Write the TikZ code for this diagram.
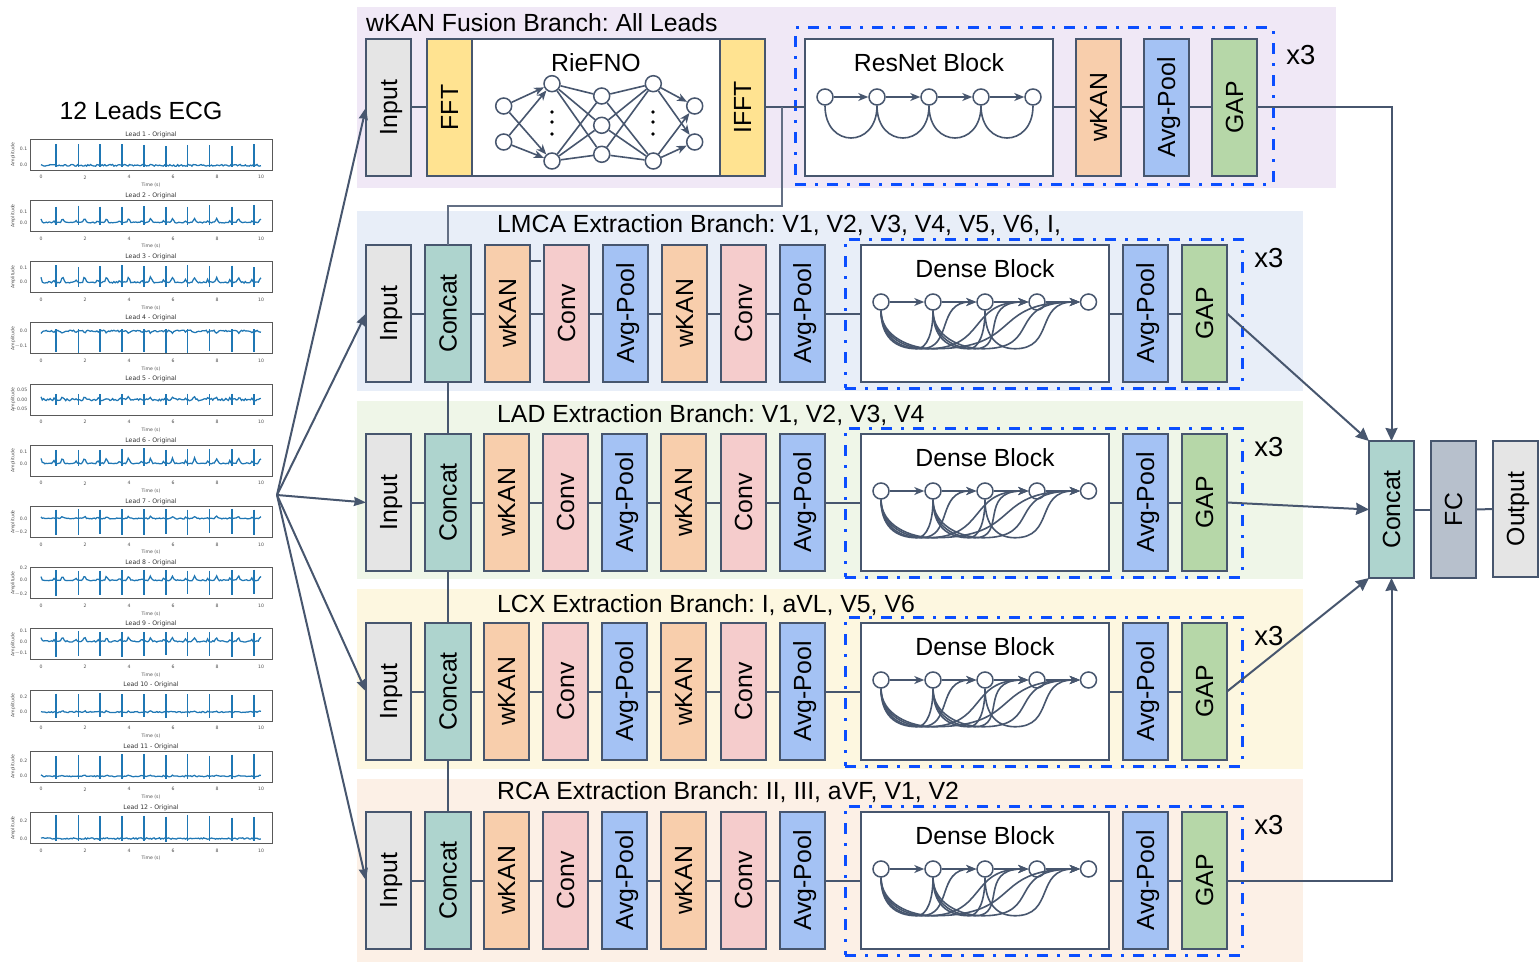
\documentclass[tikz,border=0pt]{standalone}
\usepackage{fontspec}
\usepackage{graphicx}
\setmainfont{Liberation Sans}
\newfontfamily\plotfont{DejaVu Sans}
\usetikzlibrary{arrows.meta,calc}
\definecolor{lin}{HTML}{47566E}
\definecolor{dashblue}{HTML}{0B4EFF}
\definecolor{cInput}{HTML}{E5E5E5}
\definecolor{cFFT}{HTML}{FFE391}
\definecolor{cConcat}{HTML}{AED4CE}
\definecolor{cWkan}{HTML}{F8CEAC}
\definecolor{cConv}{HTML}{F5CCCC}
\definecolor{cPool}{HTML}{A4C2F4}
\definecolor{cGap}{HTML}{B6D7A8}
\definecolor{cFC}{HTML}{B7C0CC}
\definecolor{bgP}{HTML}{F0E8F6}
\definecolor{bgB}{HTML}{E8EEF8}
\definecolor{bgG}{HTML}{EFF6E8}
\definecolor{bgY}{HTML}{FDF7E0}
\definecolor{bgO}{HTML}{FCF0E6}
\definecolor{ecg}{HTML}{1F77B4}
\newcommand\lab{\fontsize{24.8}{28}\selectfont\frenchspacing}
\newcommand\rt[1]{\rotatebox{90}{\raisebox{0pt}[17.4pt][0pt]{\lab #1}}}
\newcommand\bx[7]{\pgfmathsetmacro\ww{#4-#2}\pgfmathsetmacro\hh{#5-#3}%
  \node[#6,minimum width=\ww pt,minimum height=\hh pt,anchor=north west,inner sep=0pt,outer sep=0pt] (#1) at (#2,#3) {#7};}
\tikzset{
  x=1pt,y=-1pt,
  blk/.style={draw=lin,line width=2pt,rectangle},
  bgrect/.style={rectangle,draw=none},
  dashrect/.style={rectangle,draw=dashblue,line width=3pt,dash pattern=on 11pt off 9pt on 3pt off 9pt},
  conn/.style={draw=lin,line width=2pt},
  thinconn/.style={draw=lin!85!white,line width=1.6pt},
  bigarrow/.style={draw=lin,line width=2pt,-{Stealth[length=13pt,width=12pt,inset=1pt]}},
  minitip/.style={draw=lin,line width=1.6pt,-{Stealth[length=10pt,width=8pt,inset=3pt]}},
  miniline/.style={draw=lin,line width=1.6pt},
  neuron/.style={circle,draw=lin,line width=1.5pt,fill=white,minimum size=16pt,inner sep=0pt},
  plain/.style={inner sep=0pt,text=black,font=\lab},
  timesthree/.style={inner sep=0pt,text=black,font=\fontsize{27.5}{30}\selectfont},
  tiny/.style={inner sep=0pt,text=black!70,font=\plotfont\fontsize{4.6}{5}\selectfont},
  ptitle/.style={inner sep=0pt,text=black!80,font=\plotfont\fontsize{6.2}{7}\selectfont},
}
% branch row
\newcommand\branchrow[8]{% #1 id, #2 top, #3 delta, #4 bg colour, #5 bg top, #6 bg bottom, #7 title, #8 baseline
  \pgfmathsetmacro\bt{#2+137}
  \bx{bg#1}{357}{#5}{1303}{#6}{bgrect,fill=#4}{}
  \node[plain,anchor=base west] (title#1) at (497,#8) {#7};
  \pgfmathsetmacro\dt{#2-6}\pgfmathsetmacro\db{#2+143}
  \bx{dash#1}{845}{\dt}{1242}{\db}{dashrect}{}
  \bx{in#1}{366}{#2}{411}{\bt}{blk,fill=cInput}{\rt{Input}}
  \bx{cc#1}{425}{#2}{471}{\bt}{blk,fill=cConcat}{\rt{Concat}}
  \bx{wa#1}{\the\numexpr484+#3}{#2}{\the\numexpr529+#3}{\bt}{blk,fill=cWkan}{\rt{wKAN}}
  \bx{ca#1}{\the\numexpr543+#3}{#2}{\the\numexpr588+#3}{\bt}{blk,fill=cConv}{\rt{Conv}}
  \bx{pa#1}{\the\numexpr602+#3}{#2}{\the\numexpr647+#3}{\bt}{blk,fill=cPool}{\rt{Avg-Pool}}
  \bx{wb#1}{\the\numexpr661+#3}{#2}{\the\numexpr706+#3}{\bt}{blk,fill=cWkan}{\rt{wKAN}}
  \bx{cb#1}{721}{#2}{766}{\bt}{blk,fill=cConv}{\rt{Conv}}
  \bx{pb#1}{780}{#2}{825}{\bt}{blk,fill=cPool}{\rt{Avg-Pool}}
  \bx{wh#1}{861}{#2}{1109}{\bt}{blk,fill=white}{}
  \bx{pc#1}{1123}{#2}{1168}{\bt}{blk,fill=cPool}{\rt{Avg-Pool}}
  \bx{gap#1}{1182}{#2}{1227}{\bt}{blk,fill=cGap}{\rt{GAP}}
  \node[timesthree] (x3#1) at (1269,#2+13) {x3};
  \node[plain] (dt#1) at (985,#2+24) {Dense Block};
  \pgfmathsetmacro\ny{#2+57}
  \node[neuron] (da#1) at (881,\ny) {};
  \node[neuron] (db#1) at (933,\ny) {};
  \node[neuron] (dc#1) at (985,\ny) {};
  \node[neuron] (dd#1) at (1037,\ny) {};
  \node[neuron] (de#1) at (1088.5,\ny) {};
  \draw[conn] (in#1)--(cc#1) (cc#1)--(wa#1) (wa#1)--(ca#1) (ca#1)--(pa#1) (pa#1)--(wb#1) (wb#1)--(cb#1) (cb#1)--(pb#1) (pb#1)--(wh#1) (wh#1)--(pc#1) (pc#1)--(gap#1);
  \draw[minitip] (da#1)--(db#1);
  \draw[minitip] (db#1)--(dc#1);
  \draw[minitip] (dc#1)--(dd#1);
  \draw[minitip] (dd#1)--(de#1);
  \draw[miniline] (da#1.south) .. controls +(0,26) and +(-22,0) .. ++(36,38) .. controls +(10,0) and +(0,22) .. (db#1.south);
  \draw[miniline] (db#1.south) .. controls +(0,26) and +(-22,0) .. ++(36,38) .. controls +(10,0) and +(0,22) .. (dc#1.south);
  \draw[minitip] (da#1.south) .. controls +(0,26) and +(-22,0) .. ++(40,38) .. controls +(32,0) and +(-40,0) .. (dc#1.west);
  \draw[minitip] (da#1.south) .. controls +(0,26) and +(-22,0) .. ++(46,38) .. controls +(60,0) and +(-60,0) .. (dd#1.west);
  \draw[minitip] (da#1.south) .. controls +(0,26) and +(-22,0) .. ++(52,38) .. controls +(90,0) and +(-90,0) .. (de#1.west);
  \draw[minitip] (db#1.south) .. controls +(0,26) and +(-22,0) .. ++(42,38) .. controls +(32,0) and +(-50,0) .. (dd#1.west);
  \draw[minitip] (db#1.south) .. controls +(0,26) and +(-22,0) .. ++(50,38) .. controls +(60,0) and +(-75,0) .. (de#1.west);
  \draw[minitip] (dc#1.south) .. controls +(0,26) and +(-18,0) .. ++(30,38) .. controls +(40,0) and +(-45,0) .. (de#1.west);
}
% ECG panel: #1 id, #2 top, #3 title, #4 base offset, #5 up, #6 down, #7 t-wave, #8 noise, #9 tick list offs/label
\newcommand\ecgpanel[9]{%
  \pgfmathsetmacro\T{#2}\pgfmathsetmacro\Bt{#2+31}\pgfmathsetmacro\B{#2+#4}
  \node[ptitle] (pt#1) at (151,\T-5) {#3};
  \node[tiny,rotate=90] (pa#1amp) at (13,\T+15.5) {Amplitude};
  \node[tiny] (pt#1time) at (151,\T+46) {Time (s)};
  \draw[ecg,line width=1.25pt] plot[samples=170,domain=0:10] (41+22*\x,{\B-#7*exp(-((mod(\x+0.32,1)-0.3)/0.06)^2)-0.5*#7*exp(-((mod(\x+0.32,1)-0.9)/0.04)^2)+#8*(rnd-0.5)});
  \foreach \s in {0.68,1.7,2.68,3.68,4.68,5.68,6.67,7.67,8.68,9.68}{
    \pgfmathsetmacro\ua{\B-#5*(0.86+0.14*rnd)}
    \pgfmathsetmacro\da{\B+#6*(0.86+0.14*rnd)}
    \draw[ecg,line width=1.1pt] ({41+22*\s},\ua)--({41+22*\s},\da);
  }
  \draw[black!65,line width=.9pt] (30,\T) rectangle (272,\Bt);
  \foreach \tk in {0,2,4,6,8,10}{
    \node[tiny] (xt#1n\tk) at ({41+22*\tk},\T+38) {\tk};
  }
  \foreach \o/\l [count=\c] in {#9}{
    \node[tiny,anchor=east] (yt#1n\c) at (27.5,\T+\o) {\l};
  }
}
\begin{document}
\begin{tikzpicture}
\useasboundingbox (0,0) rectangle (1539,963);
\pgfmathsetseed{7}
% ----- top branch
\bx{bg0}{357}{7}{1336}{188}{bgrect,fill=bgP}{}
\node[plain,anchor=base west] (title0) at (366,31.5) {wKAN Fusion Branch: All Leads};
\bx{dash0}{795}{28}{1273}{184}{dashrect}{}
\bx{in0}{366}{39}{411}{176}{blk,fill=cInput}{\rt{Input}}
\bx{rf}{472}{39}{720}{176}{blk,fill=white}{}
\bx{fft}{427}{39}{472}{176}{blk,fill=cFFT}{\rt{FFT}}
\bx{ifft}{720}{39}{765}{176}{blk,fill=cFFT}{\rt{IFFT}}
\bx{res}{805}{39}{1053}{176}{blk,fill=white}{}
\bx{wk0}{1076}{39}{1121}{176}{blk,fill=cWkan}{\rt{wKAN}}
\bx{po0}{1144}{39}{1189}{176}{blk,fill=cPool}{\rt{Avg-Pool}}
\bx{gap0}{1212}{39}{1257}{176}{blk,fill=cGap}{\rt{GAP}}
\node[timesthree] (x30) at (1301,55) {x3};
\node[plain] (rftitle) at (596,63) {RieFNO};
\node[plain] (restitle) at (929,63) {ResNet Block};
% RieFNO net
\node[neuron] (a1) at (503.7,106) {};
\node[neuron] (a2) at (503.7,142) {};
\node[neuron] (b1) at (552,83.7) {};
\node[neuron] (b2) at (552,161) {};
\node[neuron] (c1) at (601.7,96) {};
\node[neuron] (c2) at (601.7,125.3) {};
\node[neuron] (c3) at (601.7,154.3) {};
\node[neuron] (d1) at (653.3,83.7) {};
\node[neuron] (d2) at (653.3,161) {};
\node[neuron] (e1) at (694.7,106) {};
\node[neuron] (e2) at (694.7,142) {};
\foreach \n/\yy in {v1/112,v2/122,v3/134}{
  \fill[black] (552,\yy) circle (1.8pt);
  \fill[black] (653,\yy) circle (1.8pt);
}
\foreach \p/\q in {a1/b1,a1/b2,a2/b1,a2/b2,d1/e1,d1/e2,d2/e1,d2/e2}{\draw[minitip] (\p)--(\q);}
\foreach \p in {b1,b2}{\foreach \q in {c1,c2,c3}{\draw[miniline] (\p)--(\q);}}
\foreach \p in {c1,c2,c3}{\foreach \q in {d1,d2}{\draw[miniline] (\p)--(\q);}}
% ResNet chain
\node[neuron] (ra) at (825,97) {};
\node[neuron] (rb) at (877,97) {};
\node[neuron] (rc) at (929,97) {};
\node[neuron] (rd) at (981,97) {};
\node[neuron] (re) at (1033,97) {};
\foreach \p/\q in {ra/rb,rb/rc,rc/rd,rd/re}{
  \draw[minitip] (\p)--(\q);
  \draw[miniline] (\p.south) .. controls +(0,43) and +(0,43) .. (\q.south);
}
\draw[conn] (in0)--(fft) (ifft)--(res) (res)--(wk0) (wk0)--(po0) (po0)--(gap0);
% ----- extraction branches
\branchrow{1}{245}{1}{bgB}{211}{391}{LMCA Extraction Branch: V1, V2, V3, V4, V5, V6, I,}{232}
\branchrow{2}{434}{0}{bgG}{401}{579}{LAD Extraction Branch: V1, V2, V3, V4}{422}
\branchrow{3}{623}{0}{bgY}{589}{769}{LCX Extraction Branch: I, aVL, V5, V6}{612}
\branchrow{4}{812}{0}{bgO}{779}{962}{RCA Extraction Branch: II, III, aVF, V1, V2}{799}
\coordinate (stuba) at (530,261);
\coordinate (stubb) at (541,261);
\draw[conn] (stuba)--(stubb);
% vertical ties and fusion feed
\draw[conn] (cc1)--(cc2);
\draw[conn] (cc2)--(cc3);
\draw[conn] (cc3)--(cc4);
\coordinate (ja) at (782,107.5);
\coordinate (jb) at (782,206);
\draw[thinconn] (ja)--(jb)-|(cc1.north);
% ----- final stage
\bx{fc}{1369}{441}{1414}{578}{blk,fill=cConcat}{\rt{Concat}}
\bx{fcl}{1431}{441}{1476}{578}{blk,fill=cFC}{\rt{FC}}
\bx{outp}{1493}{441}{1538}{577}{blk,fill=cInput}{\rt{Output}}
\draw[conn] (fc)--(fcl);
\draw[conn] (fcl)--(outp);
\draw[bigarrow] (gap0.east)-|(fc.north);
\draw[bigarrow] (gap1.east)--(fc.north west);
\draw[bigarrow] (gap2.east)--(fc.west);
\draw[bigarrow] (gap3.east)--(fc.south west);
\draw[bigarrow] (gap4.east)-|(fc.south);
% ----- ECG input
\node[plain] (ecgt) at (141,111) {12 Leads ECG};
\coordinate (ecgout) at (277,495);
\foreach \i in {0,1,2,3,4}{\draw[bigarrow,-{Stealth[length=12pt,width=9pt,inset=1pt]}] (ecgout)--(in\i.west);}
\ecgpanel{1}{139.3}{Lead 1 - Original}{26}{22}{2}{0}{1.8}{10/0.1,26/0.0}
\ecgpanel{2}{200.5}{Lead 2 - Original}{22}{18}{3}{4}{1.0}{11/0.1,22/0.0}
\ecgpanel{3}{261.7}{Lead 3 - Original}{20.6}{17}{5}{5}{1.6}{6/0.1,20.6/0.0}
\ecgpanel{4}{322.9}{Lead 4 - Original}{8}{2}{22}{-2}{1.6}{8/0.0,23/$-$0.1}
\ecgpanel{5}{384.1}{Lead 5 - Original}{15.5}{6}{6}{2}{2.4}{6/0.05,15.5/0.00,25/$-$0.05}
\ecgpanel{6}{445.3}{Lead 6 - Original}{18}{15}{3}{5}{1.2}{7/0.1,19/0.0}
\ecgpanel{7}{506.5}{Lead 7 - Original}{12}{10}{17}{2}{1.0}{12/0.0,26/$-$0.2}
\ecgpanel{8}{567.7}{Lead 8 - Original}{12.6}{11}{16}{4}{1.0}{0.5/0.2,12.6/0.0,27/$-$0.2}
\ecgpanel{9}{628.9}{Lead 9 - Original}{12.5}{10}{16}{4}{1.4}{2/0.1,12.5/0.0,24/$-$0.1}
\ecgpanel{10}{690.1}{Lead 10 - Original}{22}{20}{6}{1}{1.2}{7/0.2,22/0.0}
\ecgpanel{11}{751.3}{Lead 11 - Original}{25}{23}{3}{1}{1.0}{10/0.2,25/0.0}
\ecgpanel{12}{812.5}{Lead 12 - Original}{26}{24}{3}{0}{1.4}{8/0.2,26/0.0}
\end{tikzpicture}
\end{document}
